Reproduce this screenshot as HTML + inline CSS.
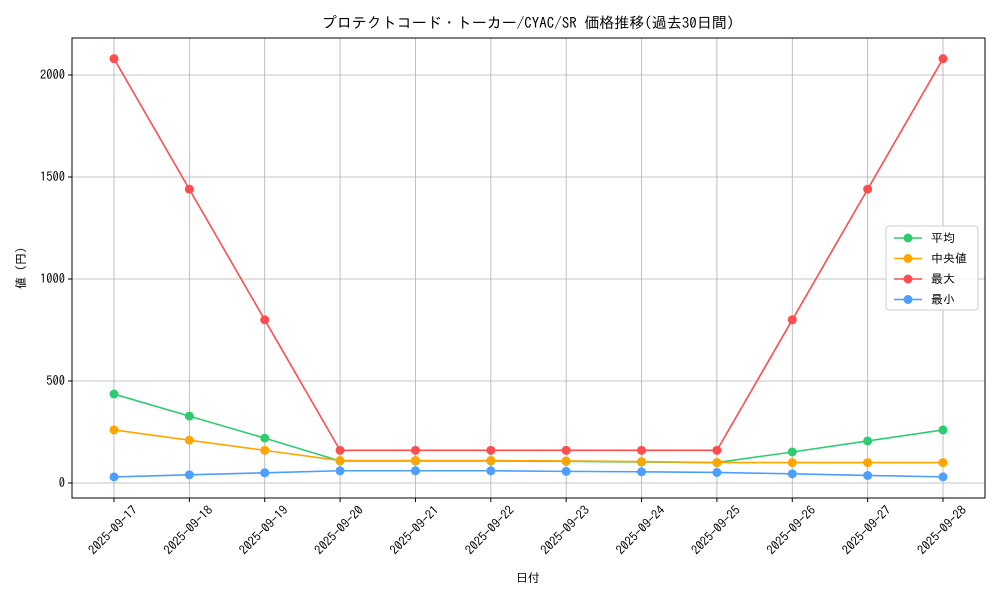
<!DOCTYPE html>
<html><head><meta charset="utf-8"><style>
body{margin:0;background:#fff;}
svg text{font-family:"IPAGothic","Noto Sans CJK JP",sans-serif;fill:#000;}
</style></head><body>
<svg id="chart" width="1000" height="600" xmlns="http://www.w3.org/2000/svg">
<rect width="1000" height="600" fill="#fff"/>
<text x="528" y="28" text-anchor="middle" font-size="15">プロテクトコード・トーカー/CYAC/SR 価格推移(過去30日間)</text>
<g id="grid"></g>
<g id="axes"></g>
<g id="series"></g>
<text x="528" y="582" text-anchor="middle" font-size="12">日付</text>
<text transform="translate(25,268) rotate(-90)" text-anchor="middle" font-size="12">値 (円)</text>
<g id="legend"></g>
</svg>
<script>
const categories=["2025-09-17","2025-09-18","2025-09-19","2025-09-20","2025-09-21","2025-09-22","2025-09-23","2025-09-24","2025-09-25","2025-09-26","2025-09-27","2025-09-28"];
const meanValues=[436,328,220,108,108,108,106,103,100,152,206,260];
const medianValues=[260,210,160,110,110,110,108,105,100,100,100,100];
const maxValues=[2080,1440,800,160,160,160,160,160,160,800,1440,2080];
const minValues=[30,40,50,60,60,60,57,55,52,45,37,30];
const yTicks=[0,500,1000,1500,2000];
const seriesNames=["平均","中央値","最大","最小"];
const NS="http://www.w3.org/2000/svg";
const L=72,R=985,T=38,B=498;
function xs(i){return 114+i*(943-114)/(categories.length-1);}
function ys(v){return 483-v*0.204;}
function mk(tag,attrs,parent){const e=document.createElementNS(NS,tag);for(const k in attrs)e.setAttribute(k,attrs[k]);parent.appendChild(e);return e;}
const grid=document.getElementById('grid'),axes=document.getElementById('axes'),ser=document.getElementById('series'),leg=document.getElementById('legend');
categories.forEach((c,i)=>{
 const g=mk('line',{x1:xs(i),x2:xs(i),y1:T,y2:B,stroke:'#b0b0b0','stroke-width':0.8},grid);
 
 
 mk('line',{x1:xs(i),x2:xs(i),y1:B,y2:B+4,stroke:'#000'},axes);
 const t=mk('text',{transform:`translate(${xs(i)+24},${B+13}) rotate(-45)`,'text-anchor':'end','font-size':12.5},axes);
 t.textContent=c;
 
 
});
yTicks.forEach(v=>{
 const g=mk('line',{x1:L,x2:R,y1:ys(v),y2:ys(v),stroke:'#b0b0b0','stroke-width':0.8},grid);
 
 
 mk('line',{x1:L-4,x2:L,y1:ys(v),y2:ys(v),stroke:'#000'},axes);
 const t=mk('text',{x:L-7,y:ys(v)+4,'text-anchor':'end','font-size':12.5},axes);
 t.textContent=v;
 
 
});
const frame=mk('rect',{x:L,y:T,width:R-L,height:B-T,fill:'none',stroke:'#000','stroke-width':1},axes);


const all=[meanValues,medianValues,maxValues,minValues];
const colors=["#2ecc71","#ffa500","#ff4c4c","#4c9eff"];
const keys=["mean","median","max","min"];
all.forEach((vals,s)=>{
 const pl=mk('polyline',{points:vals.map((v,i)=>xs(i)+','+ys(v)).join(' '),fill:'none',stroke:colors[s],'stroke-width':1.6},ser);
 
 
 vals.forEach((v,i)=>{
  const c=mk('circle',{cx:xs(i),cy:ys(v),r:4.5,fill:colors[s]},ser);
  
  
 });
});
const lb=mk('rect',{x:886,y:226,width:92,height:84,rx:3,fill:'#fff','fill-opacity':0.85,stroke:'#ccc'},leg);


seriesNames.forEach((n,s)=>{
 const y=238+s*20.5;
 const g=mk('g',{},leg);
 
 
 mk('line',{x1:894,x2:922,y1:y,y2:y,stroke:colors[s],'stroke-width':1.6},g);
 mk('circle',{cx:908,cy:y,r:4.5,fill:colors[s]},g);
 const t=mk('text',{x:931,y:y+4,'font-size':12},g);
 t.textContent=(s==1?' ':'')+n;
});
</script>
</body></html>
